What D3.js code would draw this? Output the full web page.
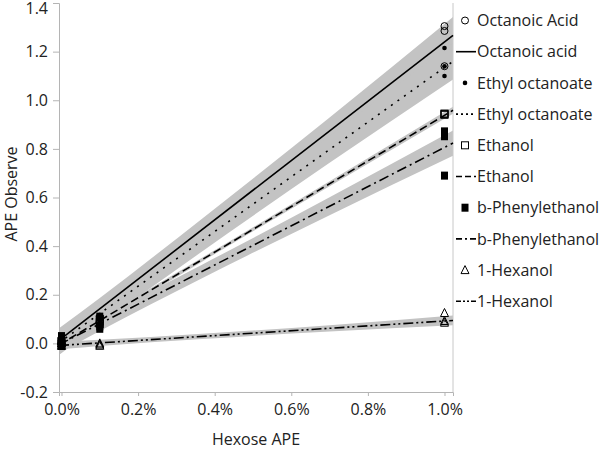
<!DOCTYPE html>
<html><head><meta charset="utf-8">
<script src="https://cdn.jsdelivr.net/npm/d3@7"></script>
<style>body{margin:0;background:#fff}svg{display:block}text{font-family:"Open Sans",sans-serif;fill:#222}</style>
</head><body>
<svg id="c" width="600" height="450"></svg>
<script>
// ---- data ----
const seriesNames = ["Octanoic Acid","Ethyl octanoate","Ethanol","b-Phenylethanol","1-Hexanol"];
const lineNames = ["Octanoic acid","Ethyl octanoate","Ethanol","b-Phenylethanol","1-Hexanol"];
const xLevels = [0, 0.1, 1.0];
// observed values per series: [values at 0%, values at 0.1%, values at 1.0%]
const octanoicObs = [[0.02,0.01,0.0],[0.10,0.11,0.09],[1.305,1.285,1.14]];
const ethylObs    = [[0.01,0.02,0.0],[0.10,0.09,0.11],[1.215,1.14,1.10]];
const ethanolObs  = [[0.01,0.0,-0.01],[0.09,0.08,0.10],[0.945,0.94,0.944]];
const phenylObs   = [[0.03,0.0,-0.01],[0.11,0.07,0.06],[0.872,0.852,0.69]];
const hexanolObs  = [[0.0,-0.01,0.01],[-0.01,-0.005,0.0],[0.125,0.085,0.092]];
// fitted lines
const fitIntercept = [0.02, 0.01, 0.0, 0.0, -0.008];
const fitSlope     = [1.22, 1.125, 0.938, 0.806, 0.10];
// confidence band half-widths at bandX
const bandX = [-0.0065, 0.1, 0.367, 0.7, 1.0222];
const octanoicBand = [0.05,0.045,0.045,0.055,0.075];
const ethylBand    = [0.05,0.045,0.045,0.055,0.075];
const ethanolBand  = [0.012,0.01,0.008,0.01,0.014];
const phenylBand   = [0.035,0.03,0.028,0.037,0.052];
const hexanolBand  = [0.016,0.013,0.011,0.013,0.02];
const xTicks = [0,0.2,0.4,0.6,0.8,1.0];
const yTicks = [-0.2,0,0.2,0.4,0.6,0.8,1.0,1.2,1.4];

const obs = [octanoicObs, ethylObs, ethanolObs, phenylObs, hexanolObs];
const bands = [octanoicBand, ethylBand, ethanolBand, phenylBand, hexanolBand];
const markers = ["circleOpen","dot","squareOpen","squareFilled","triangleOpen"];
const dashes = [null, "2,6", "8,4", "10,4,2,4", "10,3,2,3,2,3"];

const svg = d3.select("#c");
const x = d3.scaleLinear().domain([-0.0065, 1.0222]).range([59, 453]);
const y = d3.scaleLinear().domain([-0.2, 1.4]).range([392, 3]);

// bands
const area = d3.area().curve(d3.curveMonotoneX)
  .x(d => x(d.x)).y0(d => y(d.lo)).y1(d => y(d.hi));
bands.forEach((b, i) => {
  const pts = bandX.map((bx, k) => {
    const m = fitIntercept[i] + fitSlope[i]*bx;
    return {x: bx, lo: m - b[k], hi: m + b[k]};
  });
  svg.append("path").attr("d", area(pts)).attr("fill", "#c3c3c3");
});

// axes
const axL = svg.append("g").attr("transform","translate(59,0)")
  .call(d3.axisLeft(y).tickValues(yTicks).tickSize(6).tickPadding(5).tickFormat(d => d3.format(".1f")(d).replace("−","-")));
const axB = svg.append("g").attr("transform","translate(0,392)")
  .call(d3.axisBottom(x).tickValues(xTicks).tickSize(4).tickPadding(8).tickFormat(d => d3.format(".1f")(d) + "%"));
[axL, axB].forEach(g => {
  g.selectAll("path,line").attr("stroke","#b4b4b4");
  g.selectAll("text").attr("font-size",16).attr("fill","#222").style("font-family","'Open Sans',sans-serif");
});
axL.selectAll(".tick text").filter(d => d === 1.4).attr("dy","0.65em");
svg.append("line").attr("x1",453).attr("x2",453).attr("y1",y(1.4)).attr("y2",392).attr("stroke","#c8c8c8");

// fit lines
fitSlope.forEach((s, i) => {
  const [x0, x1] = x.domain();
  svg.append("line")
    .attr("x1", x(x0)).attr("y1", y(fitIntercept[i] + s*x0))
    .attr("x2", x(x1)).attr("y2", y(fitIntercept[i] + s*x1))
    .attr("stroke","#000").attr("stroke-width",1.6)
    .attr("stroke-dasharray", dashes[i]);
});

// markers
function drawMarker(g, type, cx, cy) {
  if (type === "circleOpen") g.append("circle").attr("cx",cx).attr("cy",cy).attr("r",3.5).attr("fill","none").attr("stroke","#000").attr("stroke-width",1);
  else if (type === "dot") g.append("circle").attr("cx",cx).attr("cy",cy).attr("r",2.3).attr("fill","#000");
  else if (type === "squareOpen") g.append("rect").attr("x",cx-3.5).attr("y",cy-3.5).attr("width",7).attr("height",7).attr("fill","none").attr("stroke","#000").attr("stroke-width",1);
  else if (type === "squareFilled") g.append("rect").attr("x",cx-3.5).attr("y",cy-4).attr("width",7).attr("height",8).attr("fill","#000");
  else if (type === "triangleOpen") g.append("path").attr("d",`M${cx},${cy-4.5}L${cx+4},${cy+3.5}L${cx-4},${cy+3.5}Z`).attr("fill","none").attr("stroke","#000").attr("stroke-width",1);
}
const pg = svg.append("g");
obs.forEach((o, i) => {
  o.forEach((vals, k) => vals.forEach(v => drawMarker(pg, markers[i], x(xLevels[k]), y(v))));
});

// legend
const lg = svg.append("g");
seriesNames.forEach((n, i) => {
  const y1 = 20.5 + i*2*31.2, y2 = y1 + 31.2;
  drawMarker(lg, markers[i], 465, y1);
  lg.append("text").attr("x",477).attr("y",y1).attr("dy","0.35em").attr("font-size",16).text(n);
  lg.append("line").attr("x1",456).attr("x2",476).attr("y1",y2).attr("y2",y2)
    .attr("stroke","#000").attr("stroke-width",1.6).attr("stroke-dasharray", i===1 ? "2,3" : i===2 ? "6,3" : i===3 ? "6,3,2,3" : i===4 ? "5,2,2,2,2,2" : null);
  lg.append("text").attr("x",477).attr("y",y2).attr("dy","0.35em").attr("font-size",16).text(lineNames[i]);
});

// titles
svg.append("text").attr("x",256).attr("y",445).attr("text-anchor","middle").attr("font-size",16).text("Hexose APE");
svg.append("text").attr("transform","translate(17,194) rotate(-90)").attr("text-anchor","middle").attr("font-size",16).text("APE Observe");
</script>
</body></html>
